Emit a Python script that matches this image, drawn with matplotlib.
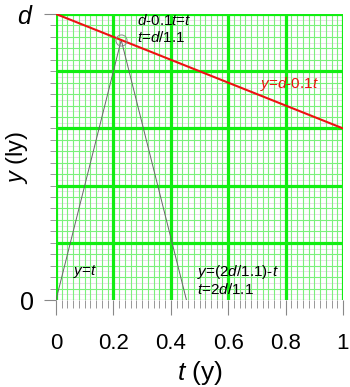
import numpy as np
import matplotlib
matplotlib.use('Agg')
import matplotlib.pyplot as plt

plt.rcParams['font.family'] = 'Liberation Sans'
plt.rcParams['mathtext.fontset'] = 'custom'
plt.rcParams['mathtext.rm'] = 'Liberation Sans'
plt.rcParams['mathtext.it'] = 'Liberation Sans:italic'

# data (d = 1 on the y axis)
line_t = [0.0, 1.0]
line_y = [1.0, 0.6]
peak_t = 1 / 4.4
peak_y = 4 * peak_t
tri_t = [0.0, peak_t, 2 * peak_t]
tri_y = [0.0, peak_y, 0.0]
xticks = [0, 0.2, 0.4, 0.6, 0.8, 1]
xlabels = ['0', '0.2', '0.4', '0.6', '0.8', '1']
yticks = [0, 1]
ylabels = ['0', '$d$']

fig = plt.figure(figsize=(3.5, 3.87), dpi=100)
ax = fig.add_axes([0.16, 0.2248, 0.82, 0.739])
ax.set_xlim(0, 1)
ax.set_ylim(0, 1)

# background grid
for v in np.arange(0, 1.001, 0.02):
    ax.axhline(v, color='#e4dce4', lw=0.6, zorder=0)
for v in np.arange(0, 1.001, 0.02):
    ax.axvline(v, color='#7cf07c', lw=0.8, zorder=1)
for v in np.arange(0, 1.001, 0.04):
    ax.axhline(v, color='#7cf07c', lw=0.8, zorder=1)
for v in np.arange(0, 1.001, 0.2):
    ax.axvline(v, color='#11ee11', lw=2.3, zorder=2)
for v in np.arange(0.2, 1.001, 0.2):
    ax.axhline(v, color='#11ee11', lw=2.3, zorder=2)
ax.axhline(0, color='#888888', lw=0.8, zorder=2)
for s in ax.spines.values():
    s.set_visible(False)

ax.plot(line_t, line_y, color='#ee1111', lw=1.5, zorder=4)
ax.plot(tri_t, tri_y, color='#666666', lw=0.7, zorder=3)
ax.plot(peak_t, peak_y, 'o', ms=8, mfc='none', mec='#888888', mew=0.7, zorder=5)

fs = 11
ax.text(0.282, 0.962, '$d$-0.1$t$=$t$', fontsize=fs, zorder=6)
ax.text(0.282, 0.902, '$t$=$d$/1.1', fontsize=fs, zorder=6)
ax.text(0.71, 0.741, '$y$=$d$-0.1$t$', fontsize=fs, color='#ee1111', zorder=6)
ax.text(0.06, 0.087, '$y$=$t$', fontsize=fs, zorder=6)
ax.text(0.491, 0.083, '$y$=(2$d$/1.1)-$t$', fontsize=fs, zorder=6)
ax.text(0.491, 0.022, '$t$=2$d$/1.1', fontsize=fs, zorder=6)

ax.set_xticks(xticks)
ax.set_xticklabels(xlabels, fontsize=16)
ax.set_xticks(np.arange(0, 1.001, 0.02), minor=True)
ax.set_yticks(yticks)
ax.set_yticklabels(ylabels, fontsize=18)
ax.set_yticks(np.arange(0, 1.001, 0.04), minor=True)
ax.tick_params(axis='x', which='major', length=11, color='#888888', pad=13)
ax.tick_params(axis='x', which='minor', length=6, color='#888888')
ax.tick_params(axis='y', which='major', length=9, color='#888888', pad=7)
ax.tick_params(axis='y', which='minor', length=4, color='#888888')

ax.set_xlabel('$t$ (y)', fontsize=19)
ax.set_ylabel('$y$ (ly)', fontsize=17)
ax.xaxis.set_label_coords(0.5, -0.205)
ax.yaxis.set_label_coords(-0.09, 0.5)

fig.savefig('out.png', dpi=100)
